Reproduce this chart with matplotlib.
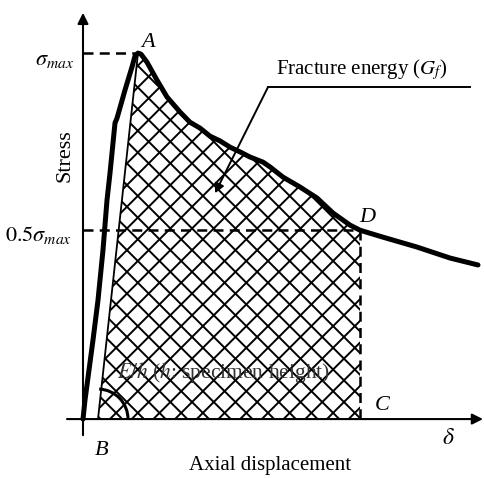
import matplotlib
matplotlib.use('Agg')
import matplotlib.pyplot as plt
import numpy as np
from matplotlib.patches import Arc, Polygon
from matplotlib.collections import LineCollection

plt.rcParams['font.family'] = 'serif'
plt.rcParams['font.serif'] = ['Liberation Serif', 'DejaVu Serif']
plt.rcParams['mathtext.fontset'] = 'stix'

# stress-displacement curve (stress normalised by sigma_max)
rise_disp = [0.00, 0.02, 0.06, 0.10, 0.15, 0.20, 0.24, 0.27, 0.32, 0.34,
             0.42, 0.49, 0.52, 0.55]
rise_stress = [0.000, 0.052, 0.134, 0.216, 0.325, 0.462, 0.598, 0.672,
               0.809, 0.822, 0.899, 0.962, 0.992, 1.000]
soft_disp = [0.55, 0.58, 0.64, 0.74, 0.84, 0.97, 1.07, 1.17, 1.27, 1.37,
             1.47, 1.57, 1.67, 1.80, 1.87, 2.00, 2.17, 2.34, 2.50, 2.67,
             2.77, 3.00, 3.34, 3.67, 3.95]
soft_stress = [1.000, 0.997, 0.975, 0.926, 0.880, 0.839, 0.811, 0.795,
               0.773, 0.760, 0.743, 0.730, 0.716, 0.702, 0.689, 0.661,
               0.634, 0.604, 0.563, 0.530, 0.516, 0.497, 0.470, 0.440,
               0.421]

peak_disp, peak_stress = 0.55, 1.0     # A
b_disp = 0.15                          # B
d_disp, d_stress = 2.77, 0.516         # D (0.5 sigma_max)

fig = plt.figure(figsize=(4.84, 4.78), dpi=100)
ax = fig.add_axes([0, 0, 1, 1])
ax.set_xlim(-0.83, 4.01)
ax.set_ylim(-0.161, 1.145)
ax.axis('off')

# hatched fracture energy area B-A-D-C (cross hatch clipped to the area)
n_d = soft_disp.index(d_disp)
hx = [b_disp] + soft_disp[:n_d + 1] + [d_disp]
hy = [0] + soft_stress[:n_d + 1] + [0]
area = Polygon(np.column_stack([hx, hy]), closed=True, facecolor='none',
               edgecolor='none')
ax.add_patch(area)
step = 0.217  # inches between hatch lines
segs = []
for c in np.arange(-6, 11, step):
    segs.append([(c, 0), (c + 6, 6)])
    segs.append([(c, 0), (c - 6, 6)])
hatch = LineCollection(segs, colors='black', linewidths=1.4,
                       transform=fig.dpi_scale_trans)
hatch.set_clip_path(area)
ax.add_collection(hatch)

# curve
ax.plot(rise_disp + soft_disp[1:], rise_stress + soft_stress[1:],
        color='black', lw=3.6, solid_capstyle='round', solid_joinstyle='round')
# unloading slope line B-A
ax.plot([b_disp, peak_disp], [0, peak_stress], color='black', lw=1.3)

# dashed guides
dash = (0, (4, 2.5))
ax.plot([0, peak_disp], [peak_stress, peak_stress], color='black', lw=1.8, ls=dash)
ax.plot([0, d_disp], [d_stress, d_stress], color='black', lw=1.8, ls=dash)
ax.plot([d_disp, d_disp], [d_stress, 0], color='black', lw=1.8, ls=dash)

# axes with arrows
arr = dict(arrowstyle='-|>', lw=1.5, color='black', mutation_scale=16,
           shrinkA=0, shrinkB=0)
ax.annotate('', xy=(0, 1.11), xytext=(0, -0.044), arrowprops=arr)
ax.annotate('', xy=(4.00, 0), xytext=(-0.16, 0), arrowprops=arr)

# E/h angle arc
ax.add_patch(Arc((b_disp, 0), 0.6, 0.164, theta1=0, theta2=82,
                 color='black', lw=2.2))

# leader for fracture energy
ax.plot([1.85, 3.87], [0.907, 0.907], color='black', lw=1.4)
ax.annotate('', xy=(1.32, 0.617), xytext=(1.85, 0.907),
            arrowprops=dict(arrowstyle='-|>', lw=1.4, color='black',
                            mutation_scale=14, shrinkA=0, shrinkB=0))

# labels
ax.text(2.79, 0.954, 'Fracture energy ($G_f$)', fontsize=15, ha='center', va='center')
ax.text(1.41, 0.128, '$E/h$ ($h$: specimen height)', fontsize=15.5,
        ha='center', va='center', color='#333333')
ax.text(-0.09, 0.981, r'$\sigma_{max}$', fontsize=16, ha='right', va='center')
ax.text(-0.11, 0.503, r'$0.5\sigma_{max}$', fontsize=16, ha='right', va='center')
ax.text(-0.18, 0.721, 'Stress', fontsize=16, rotation=90, ha='center', va='center')
ax.text(1.87, -0.126, 'Axial displacement', fontsize=15, ha='center', va='center')
ax.text(0.65, 1.030, 'A', fontsize=16, style='italic', ha='center', va='center')
ax.text(0.19, -0.085, 'B', fontsize=16, style='italic', ha='center', va='center')
ax.text(2.99, 0.038, 'C', fontsize=16, style='italic', ha='center', va='center')
ax.text(2.84, 0.552, 'D', fontsize=16, style='italic', ha='center', va='center')
ax.text(3.65, -0.052, r'$\delta$', fontsize=17, ha='center', va='center')

fig.savefig('out.png', dpi=100)
